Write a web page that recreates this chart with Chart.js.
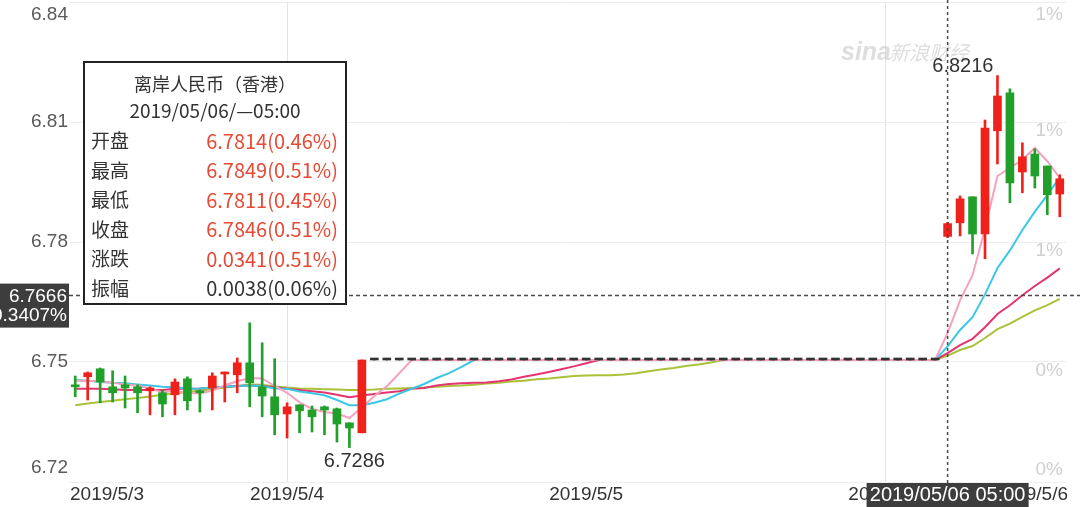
<!DOCTYPE html>
<html>
<head>
<meta charset="utf-8">
<script src="https://cdn.jsdelivr.net/npm/chart.js@4.4.0/dist/chart.umd.min.js"></script>
<style>
  html, body { margin: 0; padding: 0; background: #fff; }
  #wrap { width: 1080px; height: 507px; }
</style>
</head>
<body>
<div id="wrap"><canvas id="kChart" width="1080" height="507"></canvas></div>
<script>
// hourly candles, 2019/05/03 07:00 -> 2019/05/06 14:00
const timeLabels = [
  '2019/05/03 07:00','2019/05/03 08:00','2019/05/03 09:00','2019/05/03 10:00','2019/05/03 11:00','2019/05/03 12:00',
  '2019/05/03 13:00','2019/05/03 14:00','2019/05/03 15:00','2019/05/03 16:00','2019/05/03 17:00','2019/05/03 18:00',
  '2019/05/03 19:00','2019/05/03 20:00','2019/05/03 21:00','2019/05/03 22:00','2019/05/03 23:00',
  '2019/05/04 00:00','2019/05/04 01:00','2019/05/04 02:00','2019/05/04 03:00','2019/05/04 04:00','2019/05/04 05:00',
  '2019/05/04 06:00','2019/05/04 07:00','2019/05/04 08:00','2019/05/04 09:00','2019/05/04 10:00','2019/05/04 11:00',
  '2019/05/04 12:00','2019/05/04 13:00','2019/05/04 14:00','2019/05/04 15:00','2019/05/04 16:00','2019/05/04 17:00',
  '2019/05/04 18:00','2019/05/04 19:00','2019/05/04 20:00','2019/05/04 21:00','2019/05/04 22:00','2019/05/04 23:00',
  '2019/05/05 00:00','2019/05/05 01:00','2019/05/05 02:00','2019/05/05 03:00','2019/05/05 04:00','2019/05/05 05:00',
  '2019/05/05 06:00','2019/05/05 07:00','2019/05/05 08:00','2019/05/05 09:00','2019/05/05 10:00','2019/05/05 11:00',
  '2019/05/05 12:00','2019/05/05 13:00','2019/05/05 14:00','2019/05/05 15:00','2019/05/05 16:00','2019/05/05 17:00',
  '2019/05/05 18:00','2019/05/05 19:00','2019/05/05 20:00','2019/05/05 21:00','2019/05/05 22:00','2019/05/05 23:00',
  '2019/05/06 00:00','2019/05/06 01:00','2019/05/06 02:00','2019/05/06 03:00','2019/05/06 04:00','2019/05/06 05:00',
  '2019/05/06 06:00','2019/05/06 07:00','2019/05/06 08:00','2019/05/06 09:00','2019/05/06 10:00','2019/05/06 11:00',
  '2019/05/06 12:00','2019/05/06 13:00','2019/05/06 14:00'
];

const openPx = [
  6.7443, 6.7463, 6.7483, 6.7438, 6.7443, 6.7438, 6.7428, 6.7423, 6.7418, 6.7458,
  6.7425, 6.7435, 6.7470, 6.7468, 6.7498, 6.7438, 6.7413, 6.7370, 6.7393, 6.7380,
  6.7388, 6.7383, 6.7348, 6.7323, 6.7505, 6.7505, 6.7505, 6.7505, 6.7505, 6.7505,
  6.7505, 6.7505, 6.7505, 6.7505, 6.7505, 6.7505, 6.7505, 6.7505, 6.7505, 6.7505,
  6.7505, 6.7505, 6.7505, 6.7505, 6.7505, 6.7505, 6.7505, 6.7505, 6.7505, 6.7505,
  6.7505, 6.7505, 6.7505, 6.7505, 6.7505, 6.7505, 6.7505, 6.7505, 6.7505, 6.7505,
  6.7505, 6.7505, 6.7505, 6.7505, 6.7505, 6.7505, 6.7505, 6.7505, 6.7505, 6.7505,
  6.7814, 6.7848, 6.7913, 6.7820, 6.8078, 6.8173, 6.7975, 6.8020, 6.7990, 6.7920
];
const highPx = [
  6.7465, 6.7475, 6.7485, 6.7478, 6.7465, 6.7443, 6.7438, 6.7430, 6.7458, 6.7463,
  6.7430, 6.7473, 6.7475, 6.7510, 6.7598, 6.7548, 6.7508, 6.7398, 6.7393, 6.7390,
  6.7390, 6.7385, 6.7348, 6.7505, 6.7505, 6.7505, 6.7505, 6.7505, 6.7505, 6.7505,
  6.7505, 6.7505, 6.7505, 6.7505, 6.7505, 6.7505, 6.7505, 6.7505, 6.7505, 6.7505,
  6.7505, 6.7505, 6.7505, 6.7505, 6.7505, 6.7505, 6.7505, 6.7505, 6.7505, 6.7505,
  6.7505, 6.7505, 6.7505, 6.7505, 6.7505, 6.7505, 6.7505, 6.7505, 6.7505, 6.7505,
  6.7505, 6.7505, 6.7505, 6.7505, 6.7505, 6.7505, 6.7505, 6.7505, 6.7505, 6.7505,
  6.7849, 6.7915, 6.7913, 6.8105, 6.8216, 6.8183, 6.8048, 6.8033, 6.7990, 6.7968
];
const lowPx = [
  6.7413, 6.7405, 6.7398, 6.7400, 6.7385, 6.7373, 6.7368, 6.7363, 6.7368, 6.7380,
  6.7375, 6.7380, 6.7400, 6.7423, 6.7388, 6.7363, 6.7318, 6.7310, 6.7323, 6.7325,
  6.7318, 6.7300, 6.7286, 6.7323, 6.7505, 6.7505, 6.7505, 6.7505, 6.7505, 6.7505,
  6.7505, 6.7505, 6.7505, 6.7505, 6.7505, 6.7505, 6.7505, 6.7505, 6.7505, 6.7505,
  6.7505, 6.7505, 6.7505, 6.7505, 6.7505, 6.7505, 6.7505, 6.7505, 6.7505, 6.7505,
  6.7505, 6.7505, 6.7505, 6.7505, 6.7505, 6.7505, 6.7505, 6.7505, 6.7505, 6.7505,
  6.7505, 6.7505, 6.7505, 6.7505, 6.7505, 6.7505, 6.7505, 6.7505, 6.7505, 6.7505,
  6.7811, 6.7815, 6.7770, 6.7758, 6.7995, 6.7898, 6.7923, 6.7935, 6.7868, 6.7863
];
const closePx = [
  6.7438, 6.7473, 6.7450, 6.7423, 6.7435, 6.7423, 6.7435, 6.7395, 6.7450, 6.7403,
  6.7423, 6.7465, 6.7473, 6.7498, 6.7448, 6.7415, 6.7368, 6.7388, 6.7378, 6.7363,
  6.7380, 6.7345, 6.7335, 6.7505, 6.7505, 6.7505, 6.7505, 6.7505, 6.7505, 6.7505,
  6.7505, 6.7505, 6.7505, 6.7505, 6.7505, 6.7505, 6.7505, 6.7505, 6.7505, 6.7505,
  6.7505, 6.7505, 6.7505, 6.7505, 6.7505, 6.7505, 6.7505, 6.7505, 6.7505, 6.7505,
  6.7505, 6.7505, 6.7505, 6.7505, 6.7505, 6.7505, 6.7505, 6.7505, 6.7505, 6.7505,
  6.7505, 6.7505, 6.7505, 6.7505, 6.7505, 6.7505, 6.7505, 6.7505, 6.7505, 6.7505,
  6.7846, 6.7908, 6.7820, 6.8085, 6.8165, 6.7948, 6.8013, 6.7965, 6.7918, 6.7958
];

// moving averages
const ma5 = [
  6.7453, 6.7453, 6.7452, 6.7448, 6.7444, 6.7441, 6.7434, 6.7424, 6.7428, 6.7422,
  6.7422, 6.7428, 6.7442, 6.7452, 6.7460, 6.7459, 6.7440, 6.7423, 6.7399, 6.7383,
  6.7375, 6.7371, 6.7360, 6.7386, 6.7415, 6.7439, 6.7472, 6.7505, 6.7505, 6.7505,
  6.7505, 6.7505, 6.7505, 6.7505, 6.7505, 6.7505, 6.7505, 6.7505, 6.7505, 6.7505,
  6.7505, 6.7505, 6.7505, 6.7505, 6.7505, 6.7505, 6.7505, 6.7505, 6.7505, 6.7505,
  6.7505, 6.7505, 6.7505, 6.7505, 6.7505, 6.7505, 6.7505, 6.7505, 6.7505, 6.7505,
  6.7505, 6.7505, 6.7505, 6.7505, 6.7505, 6.7505, 6.7505, 6.7505, 6.7505, 6.7505,
  6.7573, 6.7654, 6.7717, 6.7833, 6.7965, 6.7985, 6.8006, 6.8035, 6.8002, 6.7960
];
const ma10 = [
  6.7455, 6.7453, 6.7450, 6.7448, 6.7447, 6.7444, 6.7441, 6.7438, 6.7437, 6.7433,
  6.7434, 6.7436, 6.7438, 6.7440, 6.7441, 6.7440, 6.7434, 6.7433, 6.7426, 6.7422,
  6.7417, 6.7405, 6.7392, 6.7392, 6.7398, 6.7407, 6.7421, 6.7433, 6.7445, 6.7460,
  6.7472, 6.7488, 6.7505, 6.7505, 6.7505, 6.7505, 6.7505, 6.7505, 6.7505, 6.7505,
  6.7505, 6.7505, 6.7505, 6.7505, 6.7505, 6.7505, 6.7505, 6.7505, 6.7505, 6.7505,
  6.7505, 6.7505, 6.7505, 6.7505, 6.7505, 6.7505, 6.7505, 6.7505, 6.7505, 6.7505,
  6.7505, 6.7505, 6.7505, 6.7505, 6.7505, 6.7505, 6.7505, 6.7505, 6.7505, 6.7505,
  6.7539, 6.7580, 6.7612, 6.7669, 6.7735, 6.7779, 6.7830, 6.7876, 6.7917, 6.7962
];
const ma20 = [
  6.7433, 6.7433, 6.7433, 6.7432, 6.7430, 6.7430, 6.7430, 6.7430, 6.7433, 6.7433,
  6.7434, 6.7436, 6.7438, 6.7440, 6.7441, 6.7440, 6.7437, 6.7433, 6.7430, 6.7427,
  6.7424, 6.7418, 6.7412, 6.7416, 6.7420, 6.7424, 6.7427, 6.7433, 6.7435, 6.7441,
  6.7445, 6.7447, 6.7448, 6.7449, 6.7452, 6.7456, 6.7463, 6.7469, 6.7475, 6.7482,
  6.7489, 6.7497, 6.7505, 6.7505, 6.7505, 6.7505, 6.7505, 6.7505, 6.7505, 6.7505,
  6.7505, 6.7505, 6.7505, 6.7505, 6.7505, 6.7505, 6.7505, 6.7505, 6.7505, 6.7505,
  6.7505, 6.7505, 6.7505, 6.7505, 6.7505, 6.7505, 6.7505, 6.7505, 6.7505, 6.7505,
  6.7522, 6.7542, 6.7558, 6.7587, 6.7620, 6.7642, 6.7667, 6.7690, 6.7711, 6.7734
];
const ma30 = [
  6.7392, 6.7396, 6.7400, 6.7403, 6.7407, 6.7410, 6.7414, 6.7418, 6.7421, 6.7425,
  6.7429, 6.7432, 6.7436, 6.7440, 6.7444, 6.7443, 6.7439, 6.7436, 6.7434, 6.7433,
  6.7432, 6.7431, 6.7430, 6.7430, 6.7431, 6.7433, 6.7434, 6.7435, 6.7436, 6.7438,
  6.7440, 6.7441, 6.7443, 6.7446, 6.7448, 6.7451, 6.7453, 6.7457, 6.7459, 6.7462,
  6.7465, 6.7466, 6.7467, 6.7467, 6.7469, 6.7472, 6.7477, 6.7481, 6.7485, 6.7490,
  6.7494, 6.7499, 6.7505, 6.7505, 6.7505, 6.7505, 6.7505, 6.7505, 6.7505, 6.7505,
  6.7505, 6.7505, 6.7505, 6.7505, 6.7505, 6.7505, 6.7505, 6.7505, 6.7505, 6.7505,
  6.7516, 6.7530, 6.7540, 6.7560, 6.7582, 6.7596, 6.7613, 6.7629, 6.7642, 6.7658
];

const yTicks = [6.72, 6.75, 6.78, 6.81, 6.84];
const yTickText = ['6.72', '6.75', '6.78', '6.81', '6.84'];
const pctTickText = ['0%', '0%', '1%', '1%', '1%'];
const xTickIndex = [0, 17, 41, 65, 79];
const xTickText = ['2019/5/3', '2019/5/4', '2019/5/5', '2019/5/6', '2019/5/6'];
const dayLineIndex = [17, 65];

const cursorIndex = 70;
const cursorPrice = 6.7666;
const cursorPct = '0.3407%';
const cursorTime = '2019/05/06 05:00';
const maxIndex = 74, maxText = '6.8216';
const minIndex = 22, minText = '6.7286';

const tipTitle = '离岸人民币（香港）';
const tipDate = '2019/05/06/—05:00';
const tipNames = ['开盘', '最高', '最低', '收盘', '涨跌', '振幅'];
const tipValues = ['6.7814(0.46%)', '6.7849(0.51%)', '6.7811(0.45%)', '6.7846(0.51%)', '0.0341(0.51%)', '0.0038(0.06%)'];

const upColor = '#f0211b';
const downColor = '#20a02a';
const flatColor = '#333333';
const latinFont = '"Liberation Sans", Arial, sans-serif';
const cjkFont = '"Noto Sans CJK SC", sans-serif';

function candleColor(i) {
  if (closePx[i] > openPx[i]) return upColor;
  if (closePx[i] < openPx[i]) return downColor;
  return flatColor;
}

const bodies = closePx.map((c, i) => [openPx[i], c]);
const wicks = lowPx.map((l, i) => [l, highPx[i]]);

const overlayPlugin = {
  id: 'overlay',
  beforeDatasetsDraw(chart) {
    const ctx = chart.ctx;
    ctx.save();
    ctx.fillStyle = 'rgba(190,190,190,0.5)';
    ctx.font = 'italic bold 25px ' + latinFont;
    ctx.textBaseline = 'alphabetic';
    ctx.textAlign = 'left';
    ctx.fillText('sina', 841, 60);
    ctx.font = 'italic 20px ' + cjkFont;
    ctx.fillText('新浪财经', 889, 60);
    ctx.restore();
  },
  afterDraw(chart) {
    const { ctx, chartArea: area, scales: { x, y } } = chart;
    ctx.save();

    // axis labels
    ctx.font = '19px ' + latinFont;
    ctx.textBaseline = 'middle';
    yTicks.forEach((v, k) => {
      const py = y.getPixelForValue(v);
      let ly = py, ry = py + 9;
      if (k === yTicks.length - 1) { ly = py + 13; ry = py + 13; }
      if (k === 0) { ly = py - 14; ry = py - 12; }
      ctx.textAlign = 'right';
      ctx.fillStyle = '#5a5a5a';
      ctx.fillText(yTickText[k], area.left - 1, ly);
      ctx.fillStyle = '#d0d0d0';
      ctx.fillText(pctTickText[k], area.right - 3, ry);
    });
    ctx.fillStyle = '#333';
    xTickIndex.forEach((idx, k) => {
      const ty = area.bottom + 13;
      if (k === 0) {
        ctx.textAlign = 'left';
        ctx.fillText(xTickText[k], area.left + 1, ty);
      } else if (k === xTickIndex.length - 1) {
        ctx.textAlign = 'right';
        ctx.fillText(xTickText[k], area.right + 2, ty);
      } else {
        ctx.textAlign = 'center';
        ctx.fillText(xTickText[k], x.getPixelForValue(idx), ty);
      }
    });

    // max / min notes
    ctx.font = '20px ' + latinFont;
    ctx.fillStyle = '#333';
    ctx.textBaseline = 'alphabetic';
    ctx.textAlign = 'right';
    ctx.fillText(maxText, x.getPixelForValue(maxIndex) - 4, y.getPixelForValue(highPx[maxIndex]) - 4);
    ctx.textAlign = 'center';
    ctx.fillText(minText, x.getPixelForValue(minIndex) + 5, y.getPixelForValue(lowPx[minIndex]) + 19);

    // crosshair
    const cx = x.getPixelForValue(cursorIndex);
    const cy = y.getPixelForValue(cursorPrice);
    ctx.strokeStyle = '#4a4a4a';
    ctx.lineWidth = 1.5;
    ctx.setLineDash([4, 3]);
    ctx.beginPath();
    ctx.moveTo(area.left, cy);
    ctx.lineTo(chart.width, cy);
    ctx.stroke();
    ctx.setLineDash([3, 3]);
    ctx.beginPath();
    ctx.moveTo(cx, 0);
    ctx.lineTo(cx, area.bottom + 2);
    ctx.stroke();
    ctx.setLineDash([]);

    // cursor boxes
    ctx.fillStyle = '#3d3d3d';
    ctx.fillRect(0, cy - 12, area.left, 44);
    ctx.fillRect(cx - 81, area.bottom + 1, 162, 24);
    ctx.fillStyle = '#fff';
    ctx.font = '19px ' + latinFont;
    ctx.textBaseline = 'middle';
    ctx.textAlign = 'right';
    ctx.fillText(cursorPrice.toFixed(4), area.left - 2, cy + 1);
    ctx.fillText(cursorPct, area.left - 2, cy + 20);
    ctx.textAlign = 'center';
    ctx.font = '20px ' + latinFont;
    ctx.fillText(cursorTime, cx, area.bottom + 13);

    // info box
    const bx = 84, by = 62, bw = 262, bh = 242;
    ctx.fillStyle = '#fff';
    ctx.fillRect(bx, by, bw, bh);
    ctx.strokeStyle = '#222';
    ctx.lineWidth = 2;
    ctx.strokeRect(bx, by, bw, bh);
    ctx.fillStyle = '#333';
    ctx.textAlign = 'center';
    ctx.font = '18px ' + cjkFont;
    ctx.fillText(tipTitle, bx + bw / 2, by + 22);
    ctx.font = '19px ' + cjkFont;
    ctx.fillText(tipDate, bx + bw / 2, by + 49);
    tipNames.forEach((n, k) => {
      const ry = by + 79 + k * 29.5;
      ctx.font = '19px ' + cjkFont;
      ctx.textAlign = 'left';
      ctx.fillStyle = '#333';
      ctx.fillText(n, bx + 7, ry);
      ctx.font = '20px ' + cjkFont;
      ctx.textAlign = 'right';
      ctx.fillStyle = k < 5 ? '#e64a35' : '#333';
      ctx.fillText(tipValues[k], bx + bw - 8, ry);
    });
    ctx.restore();
  }
};

function maLine(label, data, color) {
  return {
    type: 'line', label: label, data: data, order: 3,
    borderColor: color, borderWidth: 2, pointRadius: 0, tension: 0, fill: false
  };
}

new Chart(document.getElementById('kChart'), {
  type: 'bar',
  data: {
    labels: timeLabels,
    datasets: [
      maLine('MA5', ma5, '#f5a3bd'),
      maLine('MA10', ma10, '#3cc7e6'),
      maLine('MA20', ma20, '#e43570'),
      maLine('MA30', ma30, '#a9c23a'),
      {
        label: 'body', data: bodies, order: 1, grouped: false,
        backgroundColor: closePx.map((c, i) => candleColor(i)),
        barThickness: 8, minBarLength: 2, borderWidth: 0
      },
      {
        label: 'wick', data: wicks, order: 2, grouped: false,
        backgroundColor: closePx.map((c, i) => candleColor(i)),
        barThickness: 2, borderWidth: 0
      }
    ]
  },
  options: {
    responsive: false,
    animation: false,
    events: [],
    layout: { padding: { left: 69, right: 14, top: 2, bottom: 25 } },
    plugins: { legend: { display: false }, tooltip: { enabled: false } },
    scales: {
      x: {
        type: 'category',
        offset: true,
        border: { display: false },
        ticks: { display: false },
        grid: {
          offset: false,
          drawTicks: false,
          color: (c) => dayLineIndex.includes(c.index) ? '#e4e4e4' : 'rgba(0,0,0,0)'
        }
      },
      y: {
        min: 6.72,
        max: 6.84,
        border: { display: false },
        ticks: { display: false, stepSize: 0.03 },
        grid: { drawTicks: false, color: '#eeeeee' }
      }
    }
  },
  plugins: [overlayPlugin]
});
</script>
</body>
</html>
